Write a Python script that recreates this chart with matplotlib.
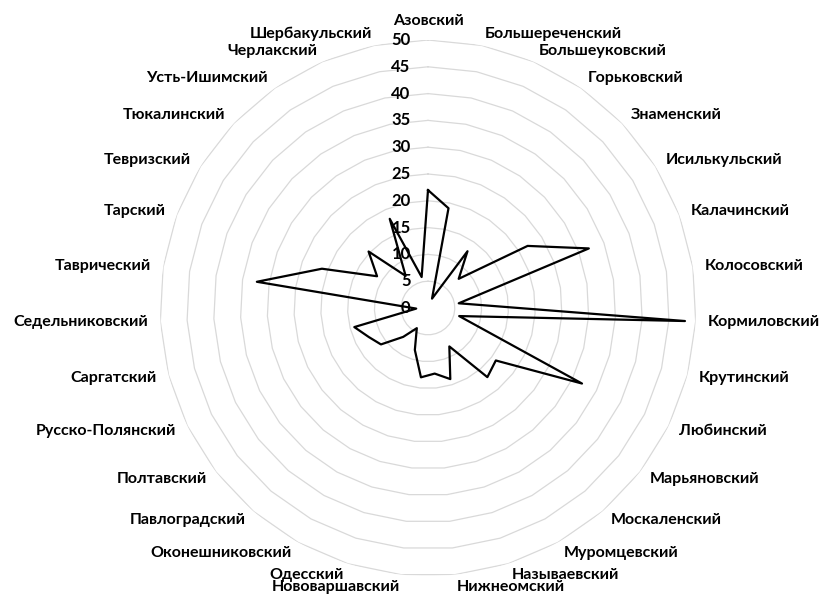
import numpy as np
import matplotlib
matplotlib.use("Agg")
import matplotlib.pyplot as plt

FS = 11.5
FONT = ['Lato', 'DejaVu Sans']
plt.rcParams['font.family'] = FONT

districts = ["Азовский", "Большереченский", "Большеуковский", "Горьковский",
             "Знаменский", "Исилькульский", "Калачинский", "Колосовский",
             "Кормиловский", "Крутинский", "Любинский", "Марьяновский",
             "Москаленский", "Муромцевский", "Называевский", "Нижнеомский",
             "Нововаршавский", "Одесский", "Оконешниковский", "Павлоградский",
             "Полтавский", "Русско-Полянский", "Саргатский", "Седельниковский",
             "Таврический", "Тарский", "Тевризский", "Тюкалинский",
             "Усть-Ишимский", "Черлакский", "Шербакульский"]
values = [22, 19, 1.9, 12.9, 7.9, 21.9, 32, 5.8,
          48, 6, 32, 16, 17, 8.2, 13.9, 12.3,
          13, 8.2, 4.3, 7.1, 11.1, 12.3, 14.2, 2.2,
          32.3, 21.1, 11.2, 15.3, 7.3, 18.1, 5.9]
rticks = [0, 5, 10, 15, 20, 25, 30, 35, 40, 45, 50]

n = len(districts)
theta = np.arange(n) * 2 * np.pi / n
theta_c = np.append(theta, theta[0])

fig = plt.figure(figsize=(8.19, 5.96), dpi=100)
ax = fig.add_axes([0.19536, 0.03356, 0.65446, 0.89933], projection='polar')
ax.set_theta_zero_location('N')
ax.set_theta_direction(-1)
ax.set_ylim(0, 50)
ax.grid(False)
ax.spines['polar'].set_visible(False)
ax.set_xticks([])
ax.set_yticks([])
ax.patch.set_alpha(0)

# polygon grid like excel
for lvl in rticks[1:]:
    ax.plot(theta_c, [lvl] * (n + 1), color='#d9d9d9', lw=0.9, zorder=1)

vals_c = values + values[:1]
ax.plot(theta_c, vals_c, color='black', lw=1.6, zorder=3, clip_on=False)

# radial axis labels
for v in rticks:
    ax.annotate(str(v), xy=(0, v), xytext=(-12.5, 0), textcoords='offset points',
                ha='right', va='center', fontsize=FS + 0.5, fontweight='bold')

# category labels
r_lab = 50 * 280 / 268
for t, name in zip(theta, districts):
    s = np.sin(t)
    if abs(s) < 1e-6:
        ha, va = 'center', 'bottom'
    elif s > 0:
        ha, va = 'left', 'center'
    else:
        ha, va = 'right', 'center'
    ax.text(t, r_lab, name, ha=ha, va=va, fontsize=FS, fontweight='bold')

plt.savefig("out.png", dpi=100)
